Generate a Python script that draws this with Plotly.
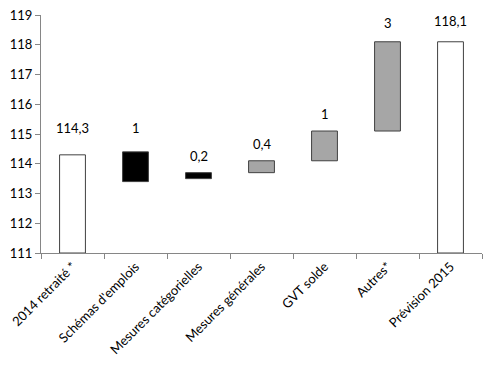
import plotly.graph_objects as go

categories = ["2014 retraité *", "Schémas d'emplois", "Mesures catégorielles",
              "Mesures générales", "GVT solde", "Autres*", "Prévision 2015"]
bar_bottom = [111, 113.4, 113.5, 113.7, 114.1, 115.1, 111]
bar_top = [114.3, 114.4, 113.7, 114.1, 115.1, 118.1, 118.1]
labels = ["114,3", "1", "0,2", "0,4", "1", "3", "118,1"]
colors = ["#FFFFFF", "#000000", "#000000", "#A6A6A6", "#A6A6A6", "#A6A6A6", "#FFFFFF"]
label_shift = [27, 24, 17, 17, 17, 19, 21]

heights = [t - b for t, b in zip(bar_top, bar_bottom)]

fig = go.Figure()
fig.add_trace(go.Bar(
    x=categories, y=heights, base=bar_bottom,
    marker=dict(color=colors, line=dict(color="#404040", width=1)),
    width=0.41, hoverinfo="skip",
))

for c, t, lab, s in zip(categories, bar_top, labels, label_shift):
    fig.add_annotation(x=c, y=t, text=lab, showarrow=False, yshift=s,
                       yanchor="middle", font=dict(size=13, color="#000000"))

fig.update_layout(
    width=498, height=366,
    margin=dict(l=41, r=16, t=15, b=113, autoexpand=False),
    plot_bgcolor="white", paper_bgcolor="white",
    showlegend=False,
    font=dict(family="Lato, Open Sans, sans-serif", size=13, color="#000000"),
    bargap=0.59,
)
fig.update_xaxes(
    type="category", tickson="boundaries", ticks="outside", ticklen=5,
    tickcolor="#868686", showline=True, linecolor="#868686", linewidth=1,
    tickangle=-45, showgrid=False, tickfont=dict(size=13), automargin=False,
)
fig.update_yaxes(
    range=[111, 119], dtick=1, ticks="outside", ticklen=5, tickcolor="#868686",
    showline=True, linecolor="#868686", linewidth=1, showgrid=False,
    zeroline=False, tickfont=dict(size=13), automargin=False,
)

fig.write_html("out.html", config={"displayModeBar": False},
               post_script="document.body.style.margin='0';")
